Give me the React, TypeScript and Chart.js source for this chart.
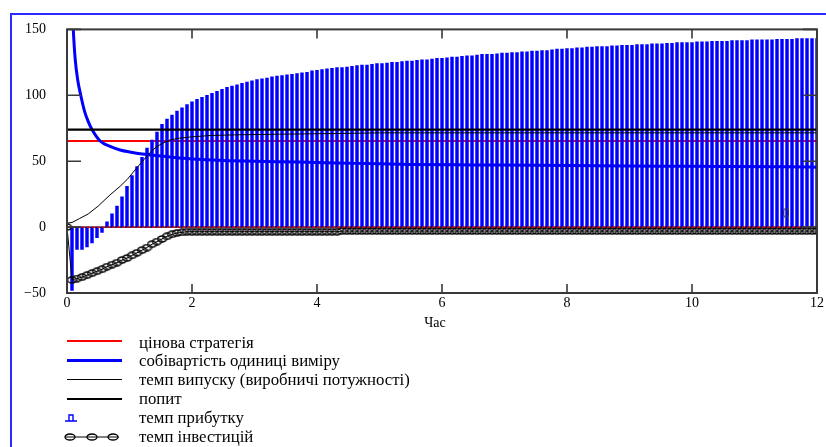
import React, { useEffect, useRef } from "react";
import { Chart, registerables } from "chart.js";
Chart.register(...registerables);

const SERIF = '"Liberation Serif", "Times New Roman", serif';

const seriesNames = [
  "цінова стратегія",
  "собівартість одиниці виміру",
  "темп випуску (виробничі потужності)",
  "попит",
  "темп прибутку",
  "темп інвестицій",
];
const axisTitle = "Час";

const xTickValues = [0, 2, 4, 6, 8, 10, 12];
const yTickValues = [-50, 0, 50, 100, 150];

const sampleTimes = [
  0, 0.08, 0.16, 0.24, 0.32, 0.4, 0.48, 0.56, 0.64, 0.72,
  0.8, 0.88, 0.96, 1.04, 1.12, 1.2, 1.28, 1.36, 1.44, 1.52,
  1.6, 1.68, 1.76, 1.84, 1.92, 2, 2.08, 2.16, 2.24, 2.32,
  2.4, 2.48, 2.56, 2.64, 2.72, 2.8, 2.88, 2.96, 3.04, 3.12,
  3.2, 3.28, 3.36, 3.44, 3.52, 3.6, 3.68, 3.76, 3.84, 3.92,
  4, 4.08, 4.16, 4.24, 4.32, 4.4, 4.48, 4.56, 4.64, 4.72,
  4.8, 4.88, 4.96, 5.04, 5.12, 5.2, 5.28, 5.36, 5.44, 5.52,
  5.6, 5.68, 5.76, 5.84, 5.92, 6, 6.08, 6.16, 6.24, 6.32,
  6.4, 6.48, 6.56, 6.64, 6.72, 6.8, 6.88, 6.96, 7.04, 7.12,
  7.2, 7.28, 7.36, 7.44, 7.52, 7.6, 7.68, 7.76, 7.84, 7.92,
  8, 8.08, 8.16, 8.24, 8.32, 8.4, 8.48, 8.56, 8.64, 8.72,
  8.8, 8.88, 8.96, 9.04, 9.12, 9.2, 9.28, 9.36, 9.44, 9.52,
  9.6, 9.68, 9.76, 9.84, 9.92, 10, 10.08, 10.16, 10.24, 10.32,
  10.4, 10.48, 10.56, 10.64, 10.72, 10.8, 10.88, 10.96, 11.04, 11.12,
  11.2, 11.28, 11.36, 11.44, 11.52, 11.6, 11.68, 11.76, 11.84, 11.92,
  12,
];

const profitRate = [
  0, -48, -17, -17, -15, -12, -8, -4, 4, 10,
  16, 23, 31, 39, 46, 53, 60, 66, 72, 78,
  82, 85, 88, 90.5, 93, 95, 97, 98.5, 100, 101.5,
  103, 104.5, 106, 107, 108, 109, 110, 111, 112, 112.5,
  113, 114, 114.5, 115, 115.5, 116, 116.5, 117, 117.5, 118.5,
  119, 119.5, 120, 120.5, 121, 121, 121.5, 122, 122.5, 123,
  123, 123.5, 124, 124, 124.5, 125, 125, 125.5, 126, 126,
  126.5, 127, 127, 127.5, 128, 128, 128.5, 129, 129, 129.5,
  130, 130, 130.5, 131, 131, 131, 131.5, 132, 132, 132.5,
  132.5, 133, 133, 133.5, 133.5, 134, 134, 134.5, 135, 135,
  135.5, 135.5, 136, 136, 136.5, 136.5, 137, 137, 137, 137.5,
  137.5, 138, 138, 138, 138.5, 138.5, 138.5, 139, 139, 139,
  139.5, 139.5, 140, 140, 140, 140, 140.5, 140.5, 140.5, 141,
  141, 141, 141, 141.5, 141.5, 141.5, 141.5, 142, 142, 142,
  142, 142, 142.5, 142.5, 142.5, 142.5, 143, 143, 143, 143,
  143,
];

const investmentRate = [
  0, -40, -39, -38, -36.5, -35, -33.5, -32, -30, -28.5,
  -27, -25, -23.5, -21.5, -19.5, -17.5, -15.5, -13, -11, -9,
  -7, -5.5, -4.5, -4, -3.5, -3.5, -3.5, -3.5, -3.5, -3.5,
  -3.5, -3.5, -3.5, -3.5, -3.5, -3.5, -3.5, -3.5, -3.5, -3.5,
  -3.5, -3.5, -3.5, -3.5, -3.5, -3.5, -3.5, -3.5, -3.5, -3.5,
  -3.5, -3.5, -3.5, -3.5, -3.5, -3, -3, -3, -3, -3,
  -3, -3, -3, -3, -3, -3, -3, -3, -3, -3,
  -3, -3, -3, -3, -3, -3, -3, -3, -3, -3,
  -3, -3, -3, -3, -3, -3, -3, -3, -3, -3,
  -3, -3, -3, -3, -3, -3, -3, -3, -3, -3,
  -3, -3, -3, -3, -3, -3, -3, -3, -3, -3,
  -3, -3, -3, -3, -3, -3, -3, -3, -3, -3,
  -3, -3, -3, -3, -3, -3, -3, -3, -3, -3,
  -3, -3, -3, -3, -3, -3, -3, -3, -3, -3,
  -3, -3, -3, -3, -3, -3, -3, -3, -3, -3,
  -3,
];

const costTimes = [0.09, 0.1, 0.13, 0.17, 0.22, 0.28, 0.34, 0.4, 0.53, 0.7, 0.85, 1.0, 1.28, 1.5, 1.8, 2.1, 2.5, 3.0, 3.7, 4.3, 5.0, 5.5, 6.5, 7.5, 8.5, 9.5, 10.5, 11.5, 12];
const unitCost = [160, 150, 128, 112, 100, 88, 80, 74, 65.3, 61, 58.5, 57, 55, 54, 52.5, 51.5, 50.5, 50, 49.3, 48.7, 48, 47.5, 47.2, 47, 46.5, 46.2, 46, 45.7, 45.5];

const outputTimes = [0, 0.08, 0.2, 0.34, 0.5, 0.69, 0.85, 0.96, 1.1, 1.2, 1.28, 1.36, 1.45, 1.55, 1.64, 1.8, 2.0, 2.3, 2.7, 3.4, 4.3, 5, 6, 8, 10, 12];
const outputRate = [3, 3.5, 6.5, 10, 16, 24.5, 31, 36, 44, 49.5, 54, 58, 61.5, 64, 66, 67.5, 68.5, 69.5, 70, 70.5, 71, 71.5, 71.5, 71.5, 71.5, 71.5];

const priceTimes = [0, 12];
const priceStrategy = [65.3, 65.3];
const demandTimes = [0, 12];
const demand = [74, 74];
const markerTimes = [0, 12];
const markerLevel = [0, 0];

const pts = (xs: number[], ys: number[]) => xs.map((x, i) => ({ x, y: ys[i] }));

const framePlugin = {
  id: "mathcadFrame",
  afterDraw(chart: any) {
    const { ctx, chartArea: a, scales } = chart;
    const xs = scales.x;
    const ys = scales.y;
    ctx.save();
    ctx.strokeStyle = "#3a3a3a";
    ctx.lineWidth = 2;
    ctx.strokeRect(a.left, a.top, a.right - a.left, a.bottom - a.top);
    ctx.lineWidth = 1.6;
    ctx.beginPath();
    xs.ticks.forEach((t: any) => {
      const px = xs.getPixelForValue(t.value);
      if (px <= a.left + 1 || px >= a.right - 1) return;
      ctx.moveTo(px, a.bottom);
      ctx.lineTo(px, a.bottom - 9);
      ctx.moveTo(px, a.top);
      ctx.lineTo(px, a.top + 9);
    });
    ys.ticks.forEach((t: any) => {
      const py = ys.getPixelForValue(t.value);
      ctx.moveTo(a.left, py);
      ctx.lineTo(a.left + 14, py);
      ctx.moveTo(a.right, py);
      ctx.lineTo(a.right - 14, py);
    });
    ctx.stroke();
    const y0 = ys.getPixelForValue(markerLevel[0]);
    ctx.fillStyle = "#333";
    ctx.font = `14px ${SERIF}`;
    ctx.textAlign = "center";
    ctx.textBaseline = "middle";
    ctx.fillText(String(markerLevel[0]), a.right - 31, y0 - 13);
    ctx.restore();
  },
};

export default function App() {
  const canvasRef = useRef<HTMLCanvasElement>(null);

  useEffect(() => {
    document.body.style.margin = "0";
    const canvas = canvasRef.current!;
    const ell = document.createElement("canvas");
    ell.width = 11;
    ell.height = 8;
    const ec = ell.getContext("2d")!;
    ec.strokeStyle = "#000";
    ec.lineWidth = 1.3;
    ec.beginPath();
    ec.ellipse(5.5, 4, 4.5, 3, 0, 0, Math.PI * 2);
    ec.stroke();

    const font = { family: SERIF, size: 14 };
    const chart = new Chart(canvas, {
      type: "line",
      data: {
        datasets: [
          { label: seriesNames[0], data: pts(priceTimes, priceStrategy), borderColor: "#ff0000", borderWidth: 2, pointRadius: 0, order: 8 } as any,
          { label: seriesNames[1], data: pts(costTimes, unitCost), borderColor: "#0000ff", borderWidth: 3, pointRadius: 0, cubicInterpolationMode: "monotone", order: 3 },
          { label: seriesNames[2], data: pts(outputTimes, outputRate), borderColor: "#000", borderWidth: 1, pointRadius: 0, order: 2 },
          { label: seriesNames[3], data: pts(demandTimes, demand), borderColor: "#000", borderWidth: 2.2, pointRadius: 0, order: 1 },
          { type: "bar", label: seriesNames[4], data: pts(sampleTimes, profitRate), backgroundColor: "#0000ff", borderWidth: 0, barThickness: 2.8, order: 7 },
          { label: seriesNames[5], data: pts(sampleTimes, investmentRate), borderColor: "#000", borderWidth: 1, pointStyle: ell, pointRadius: 4, order: 4 },
          { label: "marker", data: pts(markerTimes, markerLevel), borderColor: "#101030", borderWidth: 1.3, pointRadius: 0, order: 0.5 },
          { label: "marker-dash", data: pts(markerTimes, markerLevel), borderColor: "#ff0000", borderWidth: 1.4, borderDash: [3, 2], pointRadius: 0, order: 0 },
        ],
      },
      options: {
        responsive: false,
        animation: false,
        events: [],
        layout: { padding: { left: 0, right: 7, top: 27, bottom: 0 } },
        plugins: { legend: { display: false }, tooltip: { enabled: false } },
        scales: {
          x: {
            type: "linear",
            min: 0,
            max: 12,
            offset: false,
            grid: { display: false, drawTicks: false },
            border: { display: false },
            afterBuildTicks: (s: any) => {
              s.ticks = xTickValues.map((v) => ({ value: v }));
            },
            afterFit: (s: any) => {
              s.height = 47;
            },
            ticks: { font, color: "#000", padding: 2, maxRotation: 0, autoSkip: false },
          },
          y: {
            type: "linear",
            min: -50,
            max: 150,
            grid: { display: false, drawTicks: false },
            border: { display: false },
            afterBuildTicks: (s: any) => {
              s.ticks = yTickValues.map((v) => ({ value: v }));
            },
            afterFit: (s: any) => {
              s.width = 67;
            },
            ticks: {
              font,
              color: "#000",
              padding: 21,
              autoSkip: false,
              callback: (v: any) => (Number(v) < 0 ? "\u2212" + String(-Number(v)) : String(v)),
            },
          },
        },
      },
      plugins: [framePlugin],
    } as any);
    return () => chart.destroy();
  }, []);

  const rowCenter = (i: number) => 344 + i * 18.9;
  const sampleStyle = (i: number): React.CSSProperties => ({ position: "absolute", left: 64, top: rowCenter(i) - 10, overflow: "visible" });

  return (
    <div style={{ position: "relative", width: 826, height: 447, overflow: "hidden", background: "#fff" }}>
      <div style={{ position: "absolute", left: 10, top: 13, width: 840, height: 460, borderTop: "2px solid #2a2aff", borderLeft: "2px solid #2a2aff" }} />
      <canvas ref={canvasRef} width={826} height={340} style={{ position: "absolute", left: 0, top: 0 }} />
      <div style={{ position: "absolute", left: 420, top: 313, width: 30, textAlign: "center", font: `14px ${SERIF}`, lineHeight: "20px", color: "#000" }}>{axisTitle}</div>
      <svg width={60} height={20} style={sampleStyle(0)}><line x1={3} x2={58} y1={7} y2={7} stroke="#ff0000" strokeWidth={2} /></svg>
      <svg width={60} height={20} style={sampleStyle(1)}><line x1={3} x2={58} y1={7.5} y2={7.5} stroke="#0000ff" strokeWidth={3} /></svg>
      <svg width={60} height={20} style={sampleStyle(2)}><line x1={3} x2={58} y1={7.5} y2={7.5} stroke="#000" strokeWidth={1} /></svg>
      <svg width={60} height={20} style={sampleStyle(3)}><line x1={3} x2={58} y1={8} y2={8} stroke="#000" strokeWidth={2.2} /></svg>
      <svg width={60} height={20} style={sampleStyle(4)}><path d="M1 11 H13 M5 11 V5 H9 V11" stroke="#0000ff" strokeWidth={1.4} fill="none" /></svg>
      <svg width={60} height={20} style={sampleStyle(5)}>
        <line x1={1} x2={55} y1={8} y2={8} stroke="#000" strokeWidth={1} />
        <ellipse cx={6} cy={8} rx={5} ry={3} stroke="#000" strokeWidth={1.3} fill="none" />
        <ellipse cx={28} cy={8} rx={5} ry={3} stroke="#000" strokeWidth={1.3} fill="none" />
        <ellipse cx={49} cy={8} rx={5} ry={3} stroke="#000" strokeWidth={1.3} fill="none" />
      </svg>
      {seriesNames.map((name, i) => (
        <div key={name} style={{ position: "absolute", left: 139, top: rowCenter(i) - 11.5, height: 20, lineHeight: "20px", font: `16.8px ${SERIF}`, color: "#000", whiteSpace: "nowrap" }}>
          {name}
        </div>
      ))}
    </div>
  );
}
